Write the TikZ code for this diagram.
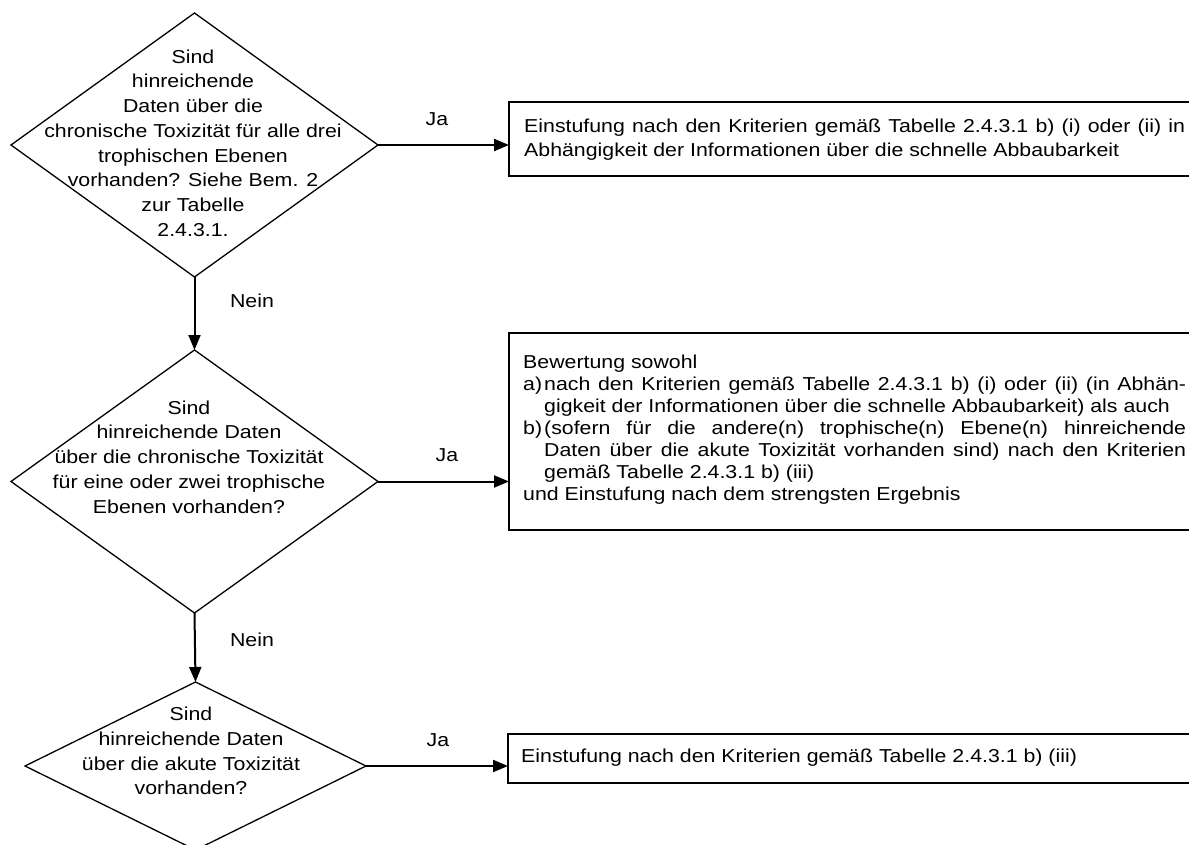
\documentclass[tikz,border=0pt]{standalone}
\usepackage{fontspec}
\setmainfont{Liberation Sans}[FakeStretch=1.14]
\usetikzlibrary{shapes.geometric,arrows.meta}
\begin{document}
\begin{tikzpicture}[x=1pt,y=-1pt,
  dia/.style={draw, line width=1.3pt, diamond, inner sep=0pt, outer sep=0pt},
  box/.style={draw, line width=1.4pt, rectangle, inner sep=0pt, outer sep=0pt, anchor=north west},
  arr/.style={line width=2pt, -{Triangle[length=15pt,width=12pt]}},
  txt/.style={font=\fontsize{18.7}{24.7}\selectfont, align=center, inner sep=0pt},
  btxt/.style={font=\fontsize{18.7}{24}\selectfont, align=left, inner sep=0pt, anchor=west},
  lbl/.style={font=\fontsize{18.7}{22}\selectfont, inner sep=0pt}]
\useasboundingbox (0,0) rectangle (1189,845);
\fill[white] (0,0) rectangle (1189,845);

% decisions
\node[dia, minimum width=367pt, minimum height=264pt] (d1) at (194.5,145) {};
\node[dia, minimum width=367pt, minimum height=263pt] (d2) at (194.5,481.5) {};
\node[dia, minimum width=341pt, minimum height=168pt] (d3) at (195.5,766) {};

\node[txt] (t1) at (193,143) {Sind\\hinreichende\\Daten über die\\chronische Toxizität für alle drei\\trophischen Ebenen\\vorhanden? Siehe Bem. 2\\zur Tabelle\\2.4.3.1.};
\node[txt] (t2) at (189,457) {Sind\\hinreichende Daten\\über die chronische Toxizität\\für eine oder zwei trophische\\Ebenen vorhanden?};
\node[txt] (t3) at (191,751) {Sind\\hinreichende Daten\\über die akute Toxizität\\vorhanden?};

% result boxes
\node[box, minimum width=700pt, minimum height=74pt] (b1) at (509,102) {};
\node[box, minimum width=700pt, minimum height=197pt] (b2) at (509,333) {};
\node[box, minimum width=700pt, minimum height=49pt] (b3) at (508,734) {};

\node[btxt] (bt1) at (524,140) {\makebox[661pt][s]{Einstufung nach den Kriterien gemäß Tabelle 2.4.3.1 b) (i) oder (ii) in}\\Abhängigkeit der Informationen über die schnelle Abbaubarkeit};
\node[btxt, font=\fontsize{18.7}{22}\selectfont] (bt2) at (523,430) {Bewertung sowohl\\
\makebox[21pt][l]{a)}\makebox[642pt][s]{nach den Kriterien gemäß Tabelle 2.4.3.1 b) (i) oder (ii) (in Abhän-}\\
\hspace*{21pt}gigkeit der Informationen über die schnelle Abbaubarkeit) als auch\\
\makebox[21pt][l]{b)}\makebox[642pt][s]{(sofern für die andere(n) trophische(n) Ebene(n) hinreichende}\\
\hspace*{21pt}\makebox[642pt][s]{Daten über die akute Toxizität vorhanden sind) nach den Kriterien}\\
\hspace*{21pt}gemäß Tabelle 2.4.3.1 b) (iii)\\
und Einstufung nach dem strengsten Ergebnis};
\node[btxt] (bt3) at (521,758) {Einstufung nach den Kriterien gemäß Tabelle 2.4.3.1 b) (iii)};

% connectors
\draw[arr] (d1.south) -- (d2.north);
\draw[arr] (d2.south) -- (d3.north);
\draw[arr] (d1.east) -- (d1.east -| b1.west);
\draw[arr] (d2.east) -- (d2.east -| b2.west);
\draw[arr] (d3.east) -- (d3.east -| b3.west);

% labels
\node[lbl] (ja1) at (437,119) {Ja};
\node[lbl] (ja2) at (447,455) {Ja};
\node[lbl] (ja3) at (438,740) {Ja};
\node[lbl] (nein1) at (252,301) {Nein};
\node[lbl] (nein2) at (252,640) {Nein};
\end{tikzpicture}
\end{document}
